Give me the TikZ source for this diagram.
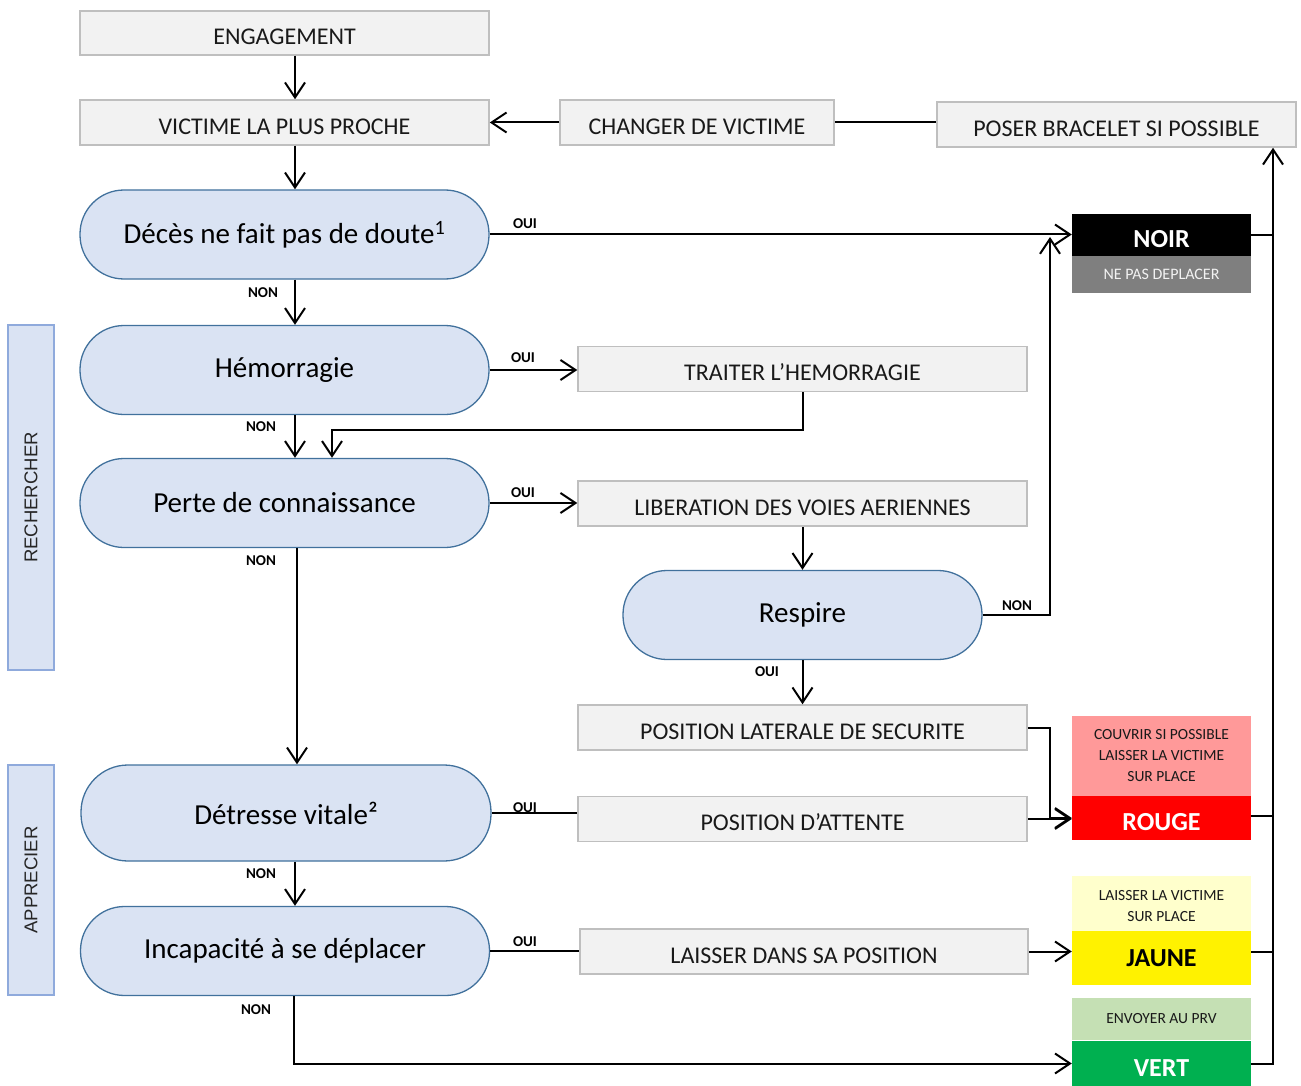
\documentclass[tikz,border=0pt]{standalone}
\usepackage{fontspec}
\setmainfont{Carlito}
\newfontfamily\sidefont{Liberation Sans}
\usetikzlibrary{arrows.meta}
\definecolor{gfill}{HTML}{F2F2F2}
\definecolor{gdraw}{HTML}{BFBFBF}
\definecolor{bfill}{HTML}{DAE3F3}
\definecolor{bdraw}{HTML}{41719C}
\definecolor{sdraw}{HTML}{8FAADC}
\definecolor{pinkc}{HTML}{FF9999}
\definecolor{lyel}{HTML}{FFFFCC}
\definecolor{lgrn}{HTML}{C5E0B4}
\definecolor{grnc}{HTML}{00B050}
\definecolor{noirgray}{HTML}{7F7F7F}
\begin{document}
\begin{tikzpicture}[x=1pt,y=-1pt,
 gbox/.style={draw=gdraw, fill=gfill, line width=1.5pt, inner sep=0pt, text height=23.5pt, text depth=0pt, font=\fontsize{24}{28}\selectfont, text=black!90},
 rbox/.style={draw=bdraw, fill=bfill, line width=1.3pt, inner sep=0pt, minimum width=409pt, minimum height=89pt, rounded corners=44pt, font=\fontsize{29}{34}\selectfont},
 lab/.style={font=\bfseries\fontsize{15}{18}\selectfont, inner sep=0pt},
 cbox/.style={inner sep=0pt, minimum width=179pt, align=center},
 small/.style={font=\fontsize{15.5}{21}\selectfont, text=black!90},
 big/.style={font=\bfseries\fontsize{26}{30}\selectfont},
 lowtext/.style={text height=25pt, text depth=0pt},
 conn/.style={line width=2pt},
 arr/.style={conn, -{Straight Barb[length=15pt,width=20pt]}},
 side/.style={draw=sdraw, fill=bfill, line width=2pt, inner sep=0pt, font=\sidefont\fontsize{18.5}{22}\selectfont, text=black!85}
]
\useasboundingbox (0,0) rectangle (1301,1086);
% top boxes
\node[gbox, minimum width=409pt, minimum height=44pt] (eng) at (284.5,33) {ENGAGEMENT};
\node[gbox, minimum width=409pt, minimum height=45pt] (vic) at (284.5,122.5) {VICTIME LA PLUS PROCHE};
\node[gbox, minimum width=274pt, minimum height=45pt] (chg) at (697,122.5) {CHANGER DE VICTIME};
\node[gbox, minimum width=359pt, minimum height=45pt] (pos) at (1116.5,124.5) {POSER BRACELET SI POSSIBLE};
% decision nodes
\node[rbox] (dec) at (284.5,234.5) {Décès ne fait pas de doute\textsuperscript{1}};
\node[rbox] (hem) at (284.5,370) {Hémorragie};
\node[rbox] (per) at (284.5,503) {Perte de connaissance};
\node[rbox, minimum width=359pt] (res) at (802.5,615) {Respire};
\node[rbox, minimum width=410pt, minimum height=96pt, rounded corners=47pt] (det) at (286,813) {Détresse vitale²};
\node[rbox] (inc) at (285,951) {Incapacité à se déplacer};
% action boxes
\node[gbox, minimum width=449pt, minimum height=45pt] (tra) at (802.5,369) {TRAITER L’HEMORRAGIE};
\node[gbox, minimum width=449pt, minimum height=45pt] (lib) at (802.5,503.5) {LIBERATION DES VOIES AERIENNES};
\node[gbox, minimum width=449pt, minimum height=45pt] (pls) at (802.5,727.5) {POSITION LATERALE DE SECURITE};
\node[gbox, minimum width=449pt, minimum height=45pt] (att) at (802.5,819) {POSITION D’ATTENTE};
\node[gbox, minimum width=448pt, minimum height=45pt] (lai) at (804,951.5) {LAISSER DANS SA POSITION};
% colour boxes
\node[cbox, fill=black, minimum height=42pt, text=white, big, lowtext] (noir) at (1161.5,235) {NOIR};
\node[cbox, fill=noirgray, minimum height=37pt, text=gfill, font=\fontsize{16}{19}\selectfont] (npd) at (1161.5,274.5) {NE PAS DEPLACER};
\node[cbox, fill=pinkc, minimum height=80pt, small] (couv) at (1161.5,756) {COUVRIR SI POSSIBLE\\LAISSER LA VICTIME\\SUR PLACE};
\node[cbox, fill=red, minimum height=44pt, text=white, big, lowtext] (rou) at (1161.5,818) {ROUGE};
\node[cbox, fill=lyel, minimum height=55pt, small] (lv) at (1161.5,903.5) {\raisebox{-3pt}[21pt][21pt]{\raisebox{-3.9pt}{\begin{tabular}{@{}c@{}}LAISSER LA VICTIME\\SUR PLACE\end{tabular}}}};
\node[cbox, fill=yellow, minimum height=54pt, text=black, big] (jau) at (1161.5,958) {JAUNE};
\node[cbox, fill=lgrn, minimum height=42pt, small] (env) at (1161.5,1019) {ENVOYER AU PRV};
\node[cbox, fill=grnc, minimum height=45pt, text=white, big, lowtext] (ver) at (1161.5,1063.5) {VERT};
% side labels
\node[side, rotate=90, minimum width=345pt, minimum height=46pt] (rech) at (31,497.5) {RECHERCHER};
\node[side, rotate=90, minimum width=230pt, minimum height=46pt] (app) at (31,880) {APPRECIER};
% OUI / NON labels
\node[lab] (l1) at (525,224) {OUI};
\node[lab] (l2) at (263,293) {NON};
\node[lab] (l3) at (523,358) {OUI};
\node[lab] (l4) at (261,427) {NON};
\node[lab] (l5) at (523,493) {OUI};
\node[lab] (l6) at (261,561) {NON};
\node[lab] (l7) at (1017,606) {NON};
\node[lab] (l8) at (767,672) {OUI};
\node[lab] (l9) at (525,808) {OUI};
\node[lab] (l10) at (261,874) {NON};
\node[lab] (l11) at (525,942) {OUI};
\node[lab] (l12) at (256,1010) {NON};
% connectors
\draw[arr] ([xshift=10.5pt]eng.south) -- ([xshift=10.5pt]vic.north);
\draw[arr] (chg.west) -- (vic.east);
\draw[conn] (chg.east) -- (chg.east -| pos.west);
\draw[arr] ([xshift=10.5pt]vic.south) -- ([xshift=10.5pt]dec.north);
\draw[arr] (dec.east) -- (dec.east -| noir.west);
\draw[arr] ([xshift=10.5pt]dec.south) -- ([xshift=10.5pt]hem.north);
\draw[arr] (hem.east) -- (hem.east -| tra.west);
\draw[arr] ([xshift=10.5pt]hem.south) -- ([xshift=10.5pt]per.north);
\coordinate (t1) at (332,430);
\draw[arr] (tra.south) |- (t1) -- (t1 |- per.north);
\draw[arr] (per.east) -- (per.east -| lib.west);
\draw[arr] ([xshift=12.5pt]per.south) -- ([xshift=11pt]det.north);
\draw[arr] (lib.south) -- (res.north);
\coordinate (j1) at (1050,0);
\draw[arr] (res.east) -| ([yshift=-2pt]noir.west -| j1);
\draw[arr] (res.south) -- (pls.north);
\draw[arr] (pls.east) -| (j1 |- rou.west) -- (rou.west);
\draw[conn] (det.east) -- (det.east -| att.west);
\draw[arr] (att.east) -- (att.east -| rou.west);
\draw[arr] ([xshift=9pt]det.south) -- ([xshift=10pt]inc.north);
\draw[conn] (inc.east) -- (inc.east -| lai.west);
\draw[arr] (lai.east) -- (lai.east -| jau.west);
\draw[arr] ([xshift=9pt]inc.south) |- (ver.west);
\coordinate (rc) at (1273,0);
\draw[arr] (ver.east) -| (rc |- pos.south);
\draw[conn] (noir.east) -- (noir.east -| rc);
\draw[conn] ([yshift=2pt]rou.east) -- ([yshift=2pt]rou.east -| rc);
\draw[conn] (lai.east -| jau.east) -- (lai.east -| rc);
\end{tikzpicture}
\end{document}
